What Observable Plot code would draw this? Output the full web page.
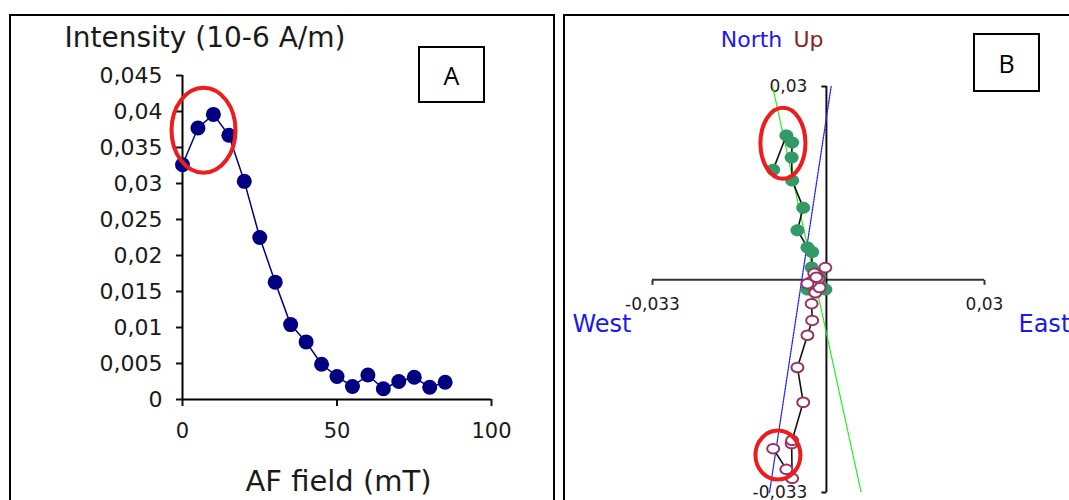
<!DOCTYPE html>
<html><head><meta charset="utf-8">
<script src="https://cdn.jsdelivr.net/npm/d3@7"></script>
<script src="https://cdn.jsdelivr.net/npm/@observablehq/plot@0.6"></script>
<style>
html,body{margin:0;padding:0;background:#fff;}
#wrap{position:relative;width:1069px;height:500px;overflow:hidden;background:#fff;}
.panel{position:absolute;box-sizing:border-box;border:2px solid #000;}
.lbl{position:absolute;box-sizing:border-box;border:2px solid #000;background:#fff;display:flex;align-items:center;justify-content:center;font-family:"Open Sans";font-size:25px;color:#000;}
.chart{position:absolute;top:0;}
.chart svg{max-width:none;}
</style></head><body>
<div id="wrap">
 <div id="chartA" class="chart" style="left:0;width:554px;height:500px"></div>
 <div id="chartB" class="chart" style="left:554px;width:515px;height:500px"></div>
 <div class="panel" style="left:9px;top:14px;width:546px;height:520px"></div>
 <div class="panel" style="left:563px;top:14px;width:540px;height:520px"></div>
 <div class="lbl" style="left:418px;top:46px;width:67px;height:57px">A</div>
 <div class="lbl" style="left:973px;top:33px;width:67px;height:59px">B</div>
</div>
<script>
// ---- Panel A data ----
const afField = [0, 5, 10, 15, 20, 25, 30, 35, 40, 45, 50, 55, 60, 65, 70, 75, 80, 85];
const intensity = [0.0326, 0.0377, 0.0396, 0.0367, 0.0303, 0.0225, 0.0163, 0.0104, 0.0080, 0.0049, 0.0032, 0.0018, 0.0034, 0.0015, 0.0025, 0.0031, 0.0017, 0.0024];
const yTicksA = [0, 0.005, 0.01, 0.015, 0.02, 0.025, 0.03, 0.035, 0.04, 0.045];
const xTicksA = [0, 50, 100];
const highlightA = [{x: 6.8, y: 0.0374}];

// ---- Panel B data (Zijderveld) ----
const east  = [-0.0101, -0.0076, -0.0065, -0.0066, -0.0065, -0.0044, -0.0055, -0.0036, -0.0027, -0.0028, -0.0021, -0.0013, -0.0030, -0.0036, -0.0015, -0.0023, -0.0002, -0.0019];
const north = [0.0171, 0.0224, 0.0213, 0.0190, 0.0154, 0.0112, 0.0077, 0.0050, 0.0043, 0.0019, 0.0011, 0.0005, -0.0004, -0.0015, -0.0001, -0.0006, -0.0015, -0.0009];
const up    = [-0.0262, -0.0294, -0.0308, -0.0254, -0.0249, -0.0190, -0.0136, -0.0086, -0.0063, -0.0037, -0.0020, -0.0012, -0.0004, -0.0006, 0.0002, 0.0010, 0.0019, 0.0004];
const axisEndsB = [-0.033, 0.03];
const fitHorizontal = [{e: -0.0102, v: 0.0300}, {e: 0.0066, v: -0.0330}];
const fitVertical   = [{e: 0.0009, v: 0.0300}, {e: -0.0108, v: -0.0330}];
const highlightTopB = [{x: -0.00825, y: 0.0212}];
const highlightBotB = [{x: -0.0092, y: -0.0272}];

const stepsA = afField.map((f, i) => ({field: f, intensity: intensity[i]}));
const stepsB = east.map((e, i) => ({east: e, north: north[i], up: up[i]}));

const comma = d => d === 0 ? "0" : String(+d.toFixed(3)).replace(".", ",");

function ellipseSymbol(rx, ry) {
  const k = 0.5523;
  return {draw(ctx) {
    ctx.moveTo(rx, 0);
    ctx.bezierCurveTo(rx, k * ry, k * rx, ry, 0, ry);
    ctx.bezierCurveTo(-k * rx, ry, -rx, k * ry, -rx, 0);
    ctx.bezierCurveTo(-rx, -k * ry, -k * rx, -ry, 0, -ry);
    ctx.bezierCurveTo(k * rx, -ry, rx, -k * ry, rx, 0);
    ctx.closePath();
  }};
}
function segSymbol(dx, dy) {
  return {draw(ctx) { ctx.moveTo(0, 0); ctx.lineTo(dx, dy); }};
}

const baseStyle = {fontFamily: "DejaVu Sans", background: "transparent", color: "#111", maxWidth: "none", overflow: "visible"};

const chartA = Plot.plot({
  width: 554, height: 500,
  marginLeft: 182, marginRight: 63, marginTop: 75, marginBottom: 101,
  x: {domain: [0, 100]},
  y: {domain: [0, 0.045]},
  style: baseStyle,
  marks: [
    Plot.axisY(yTicksA, {tickSize: 6, tickPadding: 14, fontSize: 22, tickFormat: comma, strokeWidth: 2, label: null, fill: "#1a1a1a"}),
    Plot.axisX(xTicksA, {tickSize: 7, tickPadding: 17, fontSize: 21, strokeWidth: 2, label: null, fill: "#1a1a1a"}),
    Plot.ruleY([0], {stroke: "#000", strokeWidth: 2}),
    Plot.ruleX([0], {stroke: "#000", strokeWidth: 2}),
    Plot.line(stepsA, {x: "field", y: "intensity", stroke: "#000080", strokeWidth: 1.5}),
    Plot.dot(stepsA, {x: "field", y: "intensity", r: 7.5, fill: "#000080"}),
    Plot.dot(highlightA, {x: "x", y: "y", symbol: ellipseSymbol(32, 42.5), fill: "none", stroke: "#ee1c1c", strokeWidth: 4}),
    Plot.text(["Intensity (10-6 A/m)"], {text: d => d, frameAnchor: "top-left", textAnchor: "start", lineAnchor: "middle", dx: -118, dy: -37, fontSize: 28, fill: "#1a1a1a"}),
    Plot.text(["AF field (mT)"], {text: d => d, frameAnchor: "bottom", textAnchor: "middle", lineAnchor: "middle", dx: 1.5, dy: 82, fontSize: 29, fill: "#1a1a1a"})
  ]
});
document.getElementById("chartA").append(chartA);

const chartB = Plot.plot({
  width: 515, height: 500,
  marginLeft: 98, marginRight: 85, marginTop: 86, marginBottom: 8,
  x: {domain: [-0.033, 0.03], axis: null},
  y: {domain: [-0.033, 0.03], axis: null},
  style: baseStyle,
  marks: [
    Plot.ruleY([0], {stroke: "#333", strokeWidth: 2}),
    Plot.ruleX([0], {stroke: "#111", strokeWidth: 2}),
    Plot.dot(axisEndsB, {x: d => d, y: 0, symbol: segSymbol(0, 5), fill: "none", stroke: "#333", strokeWidth: 2}),
    Plot.dot(axisEndsB, {x: 0, y: d => d, symbol: segSymbol(-5, 0), fill: "none", stroke: "#111", strokeWidth: 2}),
    Plot.text(axisEndsB, {x: d => d, y: 0, text: comma, dy: 25, fontSize: 17, fill: "#1a1a1a"}),
    Plot.text(axisEndsB, {x: 0, y: d => d, text: comma, dx: -19, textAnchor: "end", fontSize: 17, fill: "#1a1a1a"}),
    Plot.line(fitHorizontal, {x: "e", y: "v", stroke: "#22ee22", strokeWidth: 1.3, strokeDasharray: "1.5,1.2"}),
    Plot.line(fitVertical, {x: "e", y: "v", stroke: "#2222ff", strokeWidth: 1.3, strokeDasharray: "1.5,1.2"}),
    Plot.line(stepsB, {x: "east", y: "north", stroke: "#111", strokeWidth: 1.6}),
    Plot.line(stepsB, {x: "east", y: "up", stroke: "#111", strokeWidth: 1.6}),
    Plot.dot(stepsB, {x: "east", y: "north", symbol: ellipseSymbol(7, 6), fill: "#339966", stroke: "none"}),
    Plot.dot(stepsB, {x: "east", y: "up", symbol: ellipseSymbol(6, 4.8), fill: "#fff", stroke: "#993366", strokeWidth: 2}),
    Plot.dot(highlightTopB, {x: "x", y: "y", symbol: ellipseSymbol(22.5, 35.5), fill: "none", stroke: "#ee1c1c", strokeWidth: 4}),
    Plot.dot(highlightBotB, {x: "x", y: "y", symbol: ellipseSymbol(22.5, 24.5), fill: "none", stroke: "#ee1c1c", strokeWidth: 4}),
    Plot.text(["North"], {text: d => d, frameAnchor: "top-left", textAnchor: "middle", lineAnchor: "middle", dx: 99, dy: -47, fontSize: 22, fill: "#1a1aee"}),
    Plot.text(["Up"], {text: d => d, frameAnchor: "top-left", textAnchor: "middle", lineAnchor: "middle", dx: 156, dy: -47, fontSize: 22, fill: "#8b2222"}),
    Plot.text(["West"], {text: d => d, frameAnchor: "left", textAnchor: "start", lineAnchor: "middle", dx: -80, dy: 35, fontSize: 24, fill: "#1a1aee"}),
    Plot.text(["East"], {text: d => d, frameAnchor: "right", textAnchor: "start", lineAnchor: "middle", dx: 34, dy: 35, fontSize: 24, fill: "#1a1aee"})
  ]
});
document.getElementById("chartB").append(chartB);
</script>
</body></html>
